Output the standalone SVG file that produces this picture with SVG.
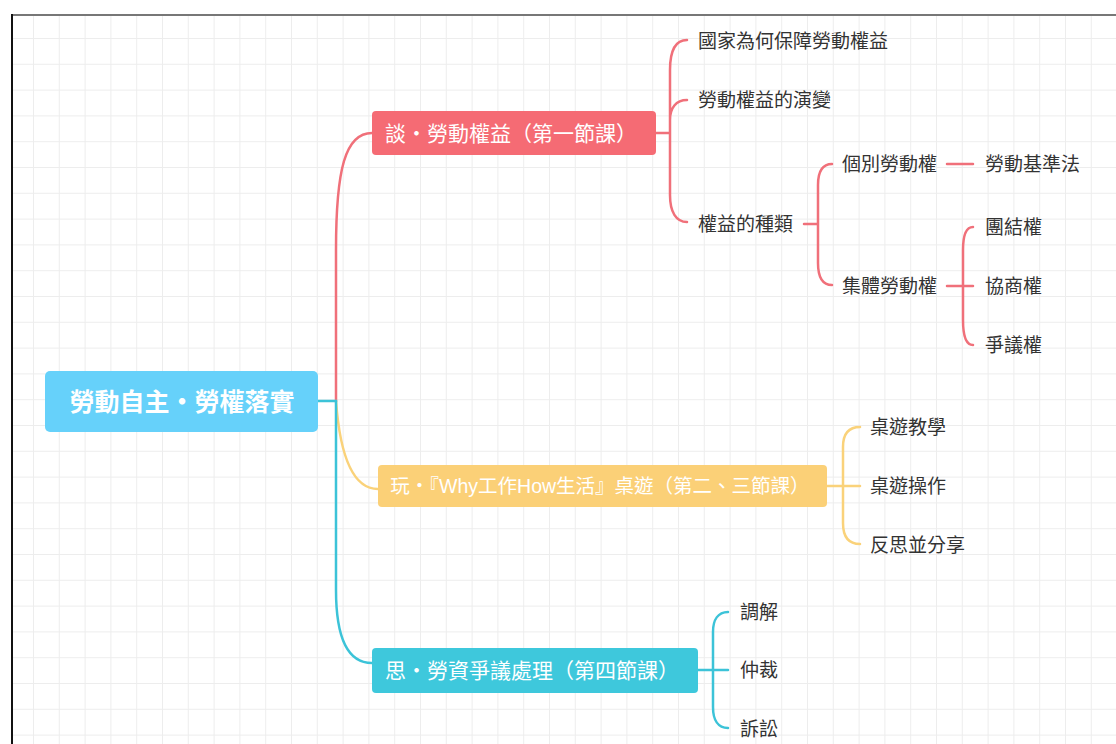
<svg xmlns="http://www.w3.org/2000/svg" width="1116" height="744" viewBox="0 0 1116 744">
<defs>
<pattern id="grid" patternUnits="userSpaceOnUse" x="7.2" y="12.2" width="25.8" height="25.8">
<path d="M0,0.5 H25.8 M0.5,0 V25.8" fill="none" stroke="#ededed" stroke-width="1"/>
</pattern>
<style>
text{font-family:"Liberation Sans","Noto Sans CJK TC",sans-serif;dominant-baseline:central}
.leaf{font-size:19px;fill:#333333}
.main{font-size:21px;fill:#ffffff}
.red{fill:none;stroke:#f0707a;stroke-width:2.5;stroke-linecap:round}
.yel{fill:none;stroke:#fad27a;stroke-width:2.5;stroke-linecap:round}
.teal{fill:none;stroke:#3cc3d8;stroke-width:2.5;stroke-linecap:round}
</style>
</defs>
<rect width="1116" height="744" fill="#ffffff"/>
<rect x="13" y="16" width="1103" height="728" fill="url(#grid)"/>
<line x1="12" y1="15" x2="1116" y2="15" stroke="#777777" stroke-width="2"/>
<line x1="12" y1="14" x2="12" y2="744" stroke="#111111" stroke-width="2"/>

<g id="connectors">
<path class="red" d="M336,401 V250 C336,170 345,133 372,133"/>
<path class="yel" d="M336,401 C340,455 352,489 378,489"/>
<path class="teal" d="M336,401 V590 C336,640 348,663 372,663"/>
<path class="teal" d="M318,401 H336" stroke-width="3"/>
<path class="red" d="M656,133 H670 M670,133 V70 C670,50 675,40 687,40 M670,133 V120 C670,108 676,100 687,100 M670,133 V195 C670,212 676,222 687,222"/>
<path class="red" d="M804,224 H818 M818,224 V185 C818,172 822,164 832,164 M818,224 V263 C818,276 822,285 832,285"/>
<path class="red" d="M947,164 H973"/>
<path class="red" d="M947,286 H973 M963,286 V250 C963,236 966,227 973,227 M963,286 V320 C963,336 966,345 973,345"/>
<path class="yel" d="M827,486 H860 M843,486 V447 C843,435 848,427 860,427 M843,486 V523 C843,536 848,544 860,544"/>
<path class="teal" d="M698,670 H728 M713,670 V632 C713,620 718,612 728,612 M713,670 V707 C713,720 718,728 728,728"/>
</g>

<g id="root">
<rect x="45" y="371" width="273" height="61" rx="5" fill="#66d1fa"/>
<text x="182" y="402" text-anchor="middle" font-size="25" font-weight="bold" fill="#ffffff">勞動自主・勞權落實</text>
</g>

<g id="n1">
<rect x="372" y="111" width="284" height="44" rx="4" fill="#f56b74"/>
<text class="main" x="511" y="133" text-anchor="middle">談・勞動權益（第一節課）</text>
</g>
<g id="n2">
<rect x="378" y="465" width="449" height="42" rx="4" fill="#fbd077"/>
<text class="main" x="600" y="486" text-anchor="middle" style="font-size:19.5px">玩・『Why工作How生活』桌遊（第二、三節課）</text>
</g>
<g id="n3">
<rect x="372" y="648" width="326" height="45" rx="4" fill="#3ec8dc"/>
<text class="main" x="532" y="670" text-anchor="middle">思・勞資爭議處理（第四節課）</text>
</g>

<g id="n1-1"><text class="leaf" x="698" y="41">國家為何保障勞動權益</text></g>
<g id="n1-2"><text class="leaf" x="698" y="100">勞動權益的演變</text></g>
<g id="n1-3"><text class="leaf" x="698" y="224">權益的種類</text></g>
<g id="n1-3-1"><text class="leaf" x="842" y="164">個別勞動權</text></g>
<g id="n1-3-1-1"><text class="leaf" x="985" y="164">勞動基準法</text></g>
<g id="n1-3-2"><text class="leaf" x="842" y="286">集體勞動權</text></g>
<g id="n1-3-2-1"><text class="leaf" x="985" y="227">團結權</text></g>
<g id="n1-3-2-2"><text class="leaf" x="985" y="286">協商權</text></g>
<g id="n1-3-2-3"><text class="leaf" x="985" y="345">爭議權</text></g>
<g id="n2-1"><text class="leaf" x="870" y="427">桌遊教學</text></g>
<g id="n2-2"><text class="leaf" x="870" y="486">桌遊操作</text></g>
<g id="n2-3"><text class="leaf" x="870" y="545">反思並分享</text></g>
<g id="n3-1"><text class="leaf" x="740" y="612">調解</text></g>
<g id="n3-2"><text class="leaf" x="740" y="670">仲裁</text></g>
<g id="n3-3"><text class="leaf" x="740" y="729">訴訟</text></g>
</svg>
